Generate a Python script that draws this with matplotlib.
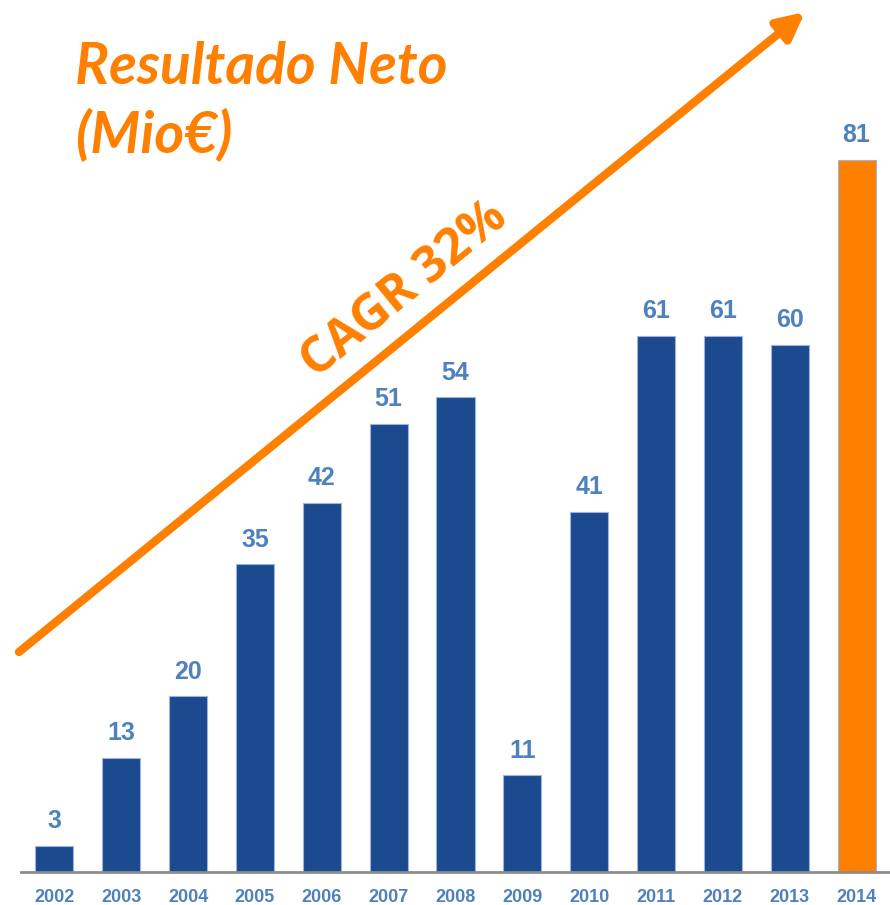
import matplotlib
matplotlib.use("Agg")
import matplotlib.pyplot as plt

# net result, millions of euros
years = ["2002", "2003", "2004", "2005", "2006", "2007", "2008",
         "2009", "2010", "2011", "2012", "2013", "2014"]
values = [3, 13, 20, 35, 42, 51, 54, 11, 41, 61, 61, 60, 81]

blue = "#1B4A8F"
orange = "#FF8000"
label_blue = "#4F81BD"

bar_colors = [blue] * (len(years) - 1) + [orange]

fig = plt.figure(figsize=(8.9, 9.05), dpi=100)
ax = fig.add_axes([21 / 890, 33 / 905, 869 / 890, 872 / 905])

x = range(len(years))
ax.bar(x, values, width=0.57, color=bar_colors, edgecolor="#9DB5DD", linewidth=0.8)

for i, v in enumerate(values):
    ax.annotate(str(v), (i, v), xytext=(0, 9), textcoords="offset points",
                ha="center", va="bottom", fontsize=18, fontweight="bold",
                color=label_blue, family="Liberation Sans")

ax.set_xlim(-0.5, 12.5)
ax.set_ylim(0, 99.2)
ax.set_xticks(list(x))
ax.set_xticklabels(years, fontsize=13, fontweight="bold", color=label_blue,
                   family="Liberation Sans")
ax.tick_params(axis="x", length=0, pad=12)
ax.set_yticks([])
for s in ["top", "right", "left"]:
    ax.spines[s].set_visible(False)
ax.spines["bottom"].set_color("#8C8C8C")
ax.spines["bottom"].set_linewidth(2)

# growth arrow (axes fraction)
ax.annotate("", xy=(784 / 869, 860 / 872), xytext=(-2 / 869, 220 / 872),
            xycoords="axes fraction", textcoords="axes fraction",
            arrowprops=dict(arrowstyle="-|>,head_length=1.6,head_width=0.8",
                            color=orange, lw=6, shrinkA=0, shrinkB=0),
            annotation_clip=False)

fig.text(405 / 890, 1 - 290 / 905, "CAGR 32%", rotation=39.2, ha="center", va="center",
         fontsize=36, fontweight="bold", color=orange, family="Open Sans",
         rotation_mode="anchor")

fig.text(75 / 890, 1 - 84 / 905, "Resultado Neto", ha="left", va="baseline",
         fontsize=41, fontweight="bold", fontstyle="italic", color=orange,
         family="Lato")
fig.text(75 / 890, 1 - 153 / 905, "(Mio€)", ha="left", va="baseline",
         fontsize=41, fontweight="bold", fontstyle="italic", color=orange,
         family="Lato")

fig.savefig("out.png", dpi=100)
